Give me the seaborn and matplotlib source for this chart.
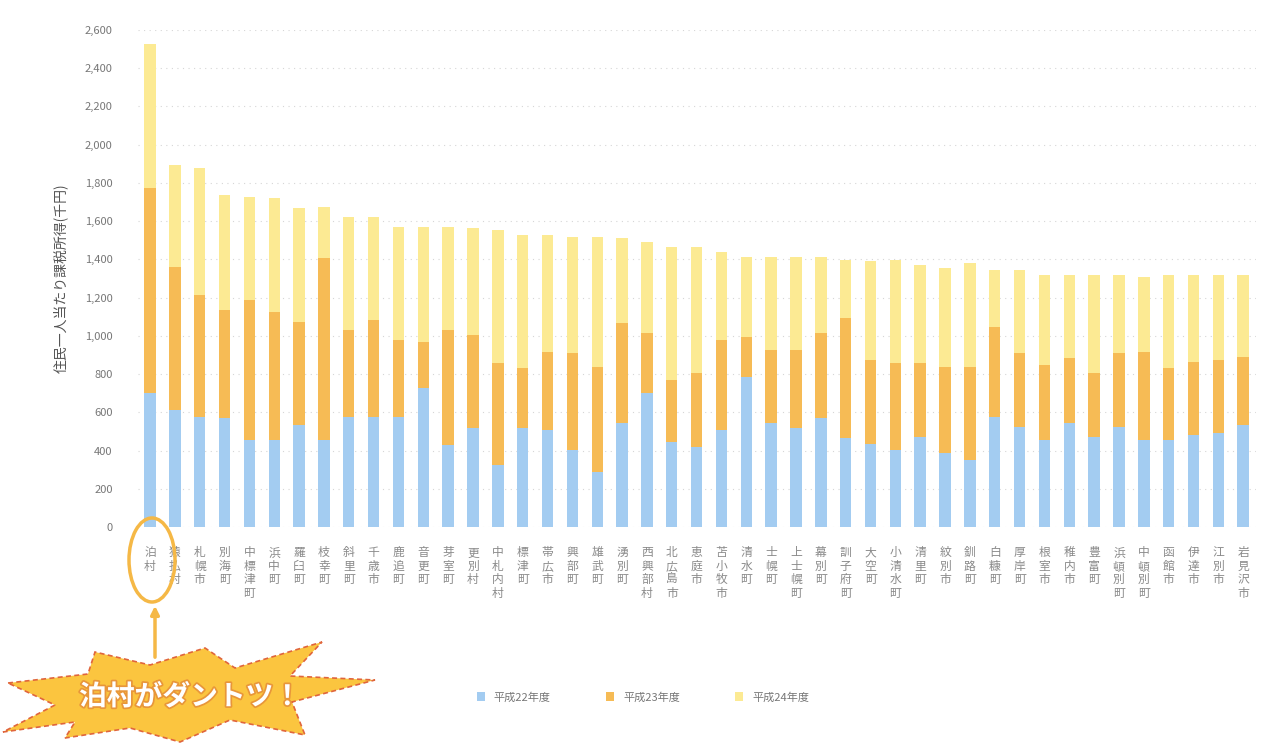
import matplotlib
matplotlib.use("Agg")
import matplotlib.pyplot as plt
import matplotlib.patheffects as pe
from matplotlib.patches import Polygon, Ellipse, FancyArrowPatch, Patch
from matplotlib.ticker import FuncFormatter
import numpy as np
import pandas as pd
import seaborn as sns

# ---------------------------------------------------------------------------
# Data (千円)
# ---------------------------------------------------------------------------
towns = [
    "泊村", "猿払村", "札幌市", "別海町", "中標津町", "浜中町", "羅臼町", "枝幸町",
    "斜里町", "千歳市", "鹿追町", "音更町", "芽室町", "更別村", "中札内村", "標津町",
    "帯広市", "興部町", "雄武町", "湧別町", "西興部村", "北広島市", "恵庭市", "苫小牧市",
    "清水町", "士幌町", "上士幌町", "幕別町", "訓子府町", "大空町", "小清水町", "清里町",
    "紋別市", "釧路町", "白糠町", "厚岸町", "根室市", "稚内市", "豊富町", "浜頓別町",
    "中頓別町", "函館市", "伊達市", "江別市", "岩見沢市",
]
series_names = ["平成22年度", "平成23年度", "平成24年度"]

# cumulative tops of each stacked segment
blue_top = [702, 613, 576, 571, 456, 456, 534, 456, 576, 576, 576, 728, 429, 518, 325,
            518, 508, 403, 288, 545, 702, 445, 419, 508, 785, 545, 518, 571, 466, 435,
            403, 471, 387, 351, 576, 524, 456, 545, 471, 524, 456, 456, 482, 492, 534]
orange_top = [1775, 1361, 1215, 1136, 1189, 1126, 1073, 1408, 1031, 1084, 979, 969, 1031,
              1005, 859, 833, 916, 911, 838, 1068, 1016, 770, 806, 979, 995, 927, 927,
              1016, 1094, 874, 859, 859, 838, 838, 1047, 911, 848, 885, 806, 911, 916,
              833, 864, 874, 890]
total = [2529, 1895, 1880, 1738, 1728, 1723, 1670, 1676, 1623, 1623, 1571, 1571, 1571,
         1566, 1555, 1529, 1529, 1518, 1518, 1513, 1492, 1466, 1466, 1440, 1414, 1414,
         1414, 1414, 1398, 1393, 1398, 1372, 1356, 1382, 1346, 1346, 1319, 1319, 1319,
         1319, 1309, 1319, 1319, 1319, 1319]

colors = ["#a3ccf1", "#f6bb55", "#fcea93"]

df = pd.DataFrame({
    "town": towns,
    "blue": blue_top,
    "orange": orange_top,
    "total": total,
})

# ---------------------------------------------------------------------------
# Plot
# ---------------------------------------------------------------------------
sns.set_theme(style="white")
plt.rcParams["font.family"] = ["Noto Sans CJK JP", "DejaVu Sans"]

fig = plt.figure(figsize=(12.61, 7.44), dpi=100)
ax = fig.add_axes([137.6 / 1261, 1 - 527 / 744, 1118 / 1261, 497 / 744])

# stacked bars: draw tallest first, then overlay lower segments
for col, c in zip(["total", "orange", "blue"], colors[::-1]):
    sns.barplot(data=df, x="town", y=col, color=c, width=0.46,
                saturation=1, ax=ax, linewidth=0)

ax.set_ylim(0, 2600)
ax.set_xlim(-0.5, len(towns) - 0.5)
ax.set_yticks(np.arange(0, 2601, 200))
ax.yaxis.set_major_formatter(FuncFormatter(lambda v, p: f"{int(v):,}"))
ax.yaxis.grid(True, color="#d6d6d6", linestyle=(0, (1, 4)), linewidth=0.8)
ax.set_axisbelow(True)
for s in ax.spines.values():
    s.set_visible(False)
ax.tick_params(axis="both", length=0, labelsize=8, colors="#777777")
ax.tick_params(axis="y", pad=18)

# vertical (stacked-character) tick labels
ax.set_xticks(range(len(towns)))
ax.set_xticklabels(["\n".join(t) for t in towns], fontsize=8.5, color="#8a8a8a",
                   linespacing=1.05, va="top")
ax.tick_params(axis="x", pad=14)
ax.set_xlabel("")
ax.set_ylabel("住民一人当たり課税所得(千円)", fontsize=10, color="#555555", labelpad=12)

# legend
handles = [Patch(facecolor=c, edgecolor="none") for c in colors]
fig.legend(handles, series_names, loc="center", bbox_to_anchor=(0.51, 0.063),
           ncol=3, frameon=False, fontsize=8, handlelength=0.7, handleheight=0.9,
           columnspacing=5, labelcolor="#777777")

# ---------------------------------------------------------------------------
# Annotation: ellipse around 泊村, arrow, starburst callout (figure pixels)
# ---------------------------------------------------------------------------
H = 744.0
def fp(x, y):
    return (x / 1261.0, 1 - y / H)

fig.patches.append(Ellipse(fp(152, 560), 46 / 1261, 84 / H, transform=fig.transFigure,
                           fill=False, edgecolor="#f5b846", linewidth=2.5))
fig.patches.append(FancyArrowPatch(fp(155, 660), fp(155, 603), transform=fig.transFigure,
                                   arrowstyle="-|>", mutation_scale=12,
                                   color="#f5b846", linewidth=2.5))

star = [(8, 683), (88, 674), (95, 652), (150, 665), (205, 648), (235, 668), (322, 642),
        (290, 676), (375, 680), (292, 702), (305, 735), (230, 720), (180, 742),
        (130, 728), (65, 738), (75, 722), (3, 732), (55, 705)]
fig.patches.append(Polygon([fp(x, y) for x, y in star], closed=True,
                           transform=fig.transFigure, facecolor="#fbc53f",
                           edgecolor="#e0653c", linewidth=1.2, linestyle=(0, (3, 2))))
fig.text(190 / 1261, 1 - 697 / H, "泊村がダントツ！", ha="center", va="center",
         fontsize=20, color="white", fontweight="bold",
         path_effects=[pe.withStroke(linewidth=2.5, foreground="#e8963a")])

fig.savefig("out.png", dpi=100)
